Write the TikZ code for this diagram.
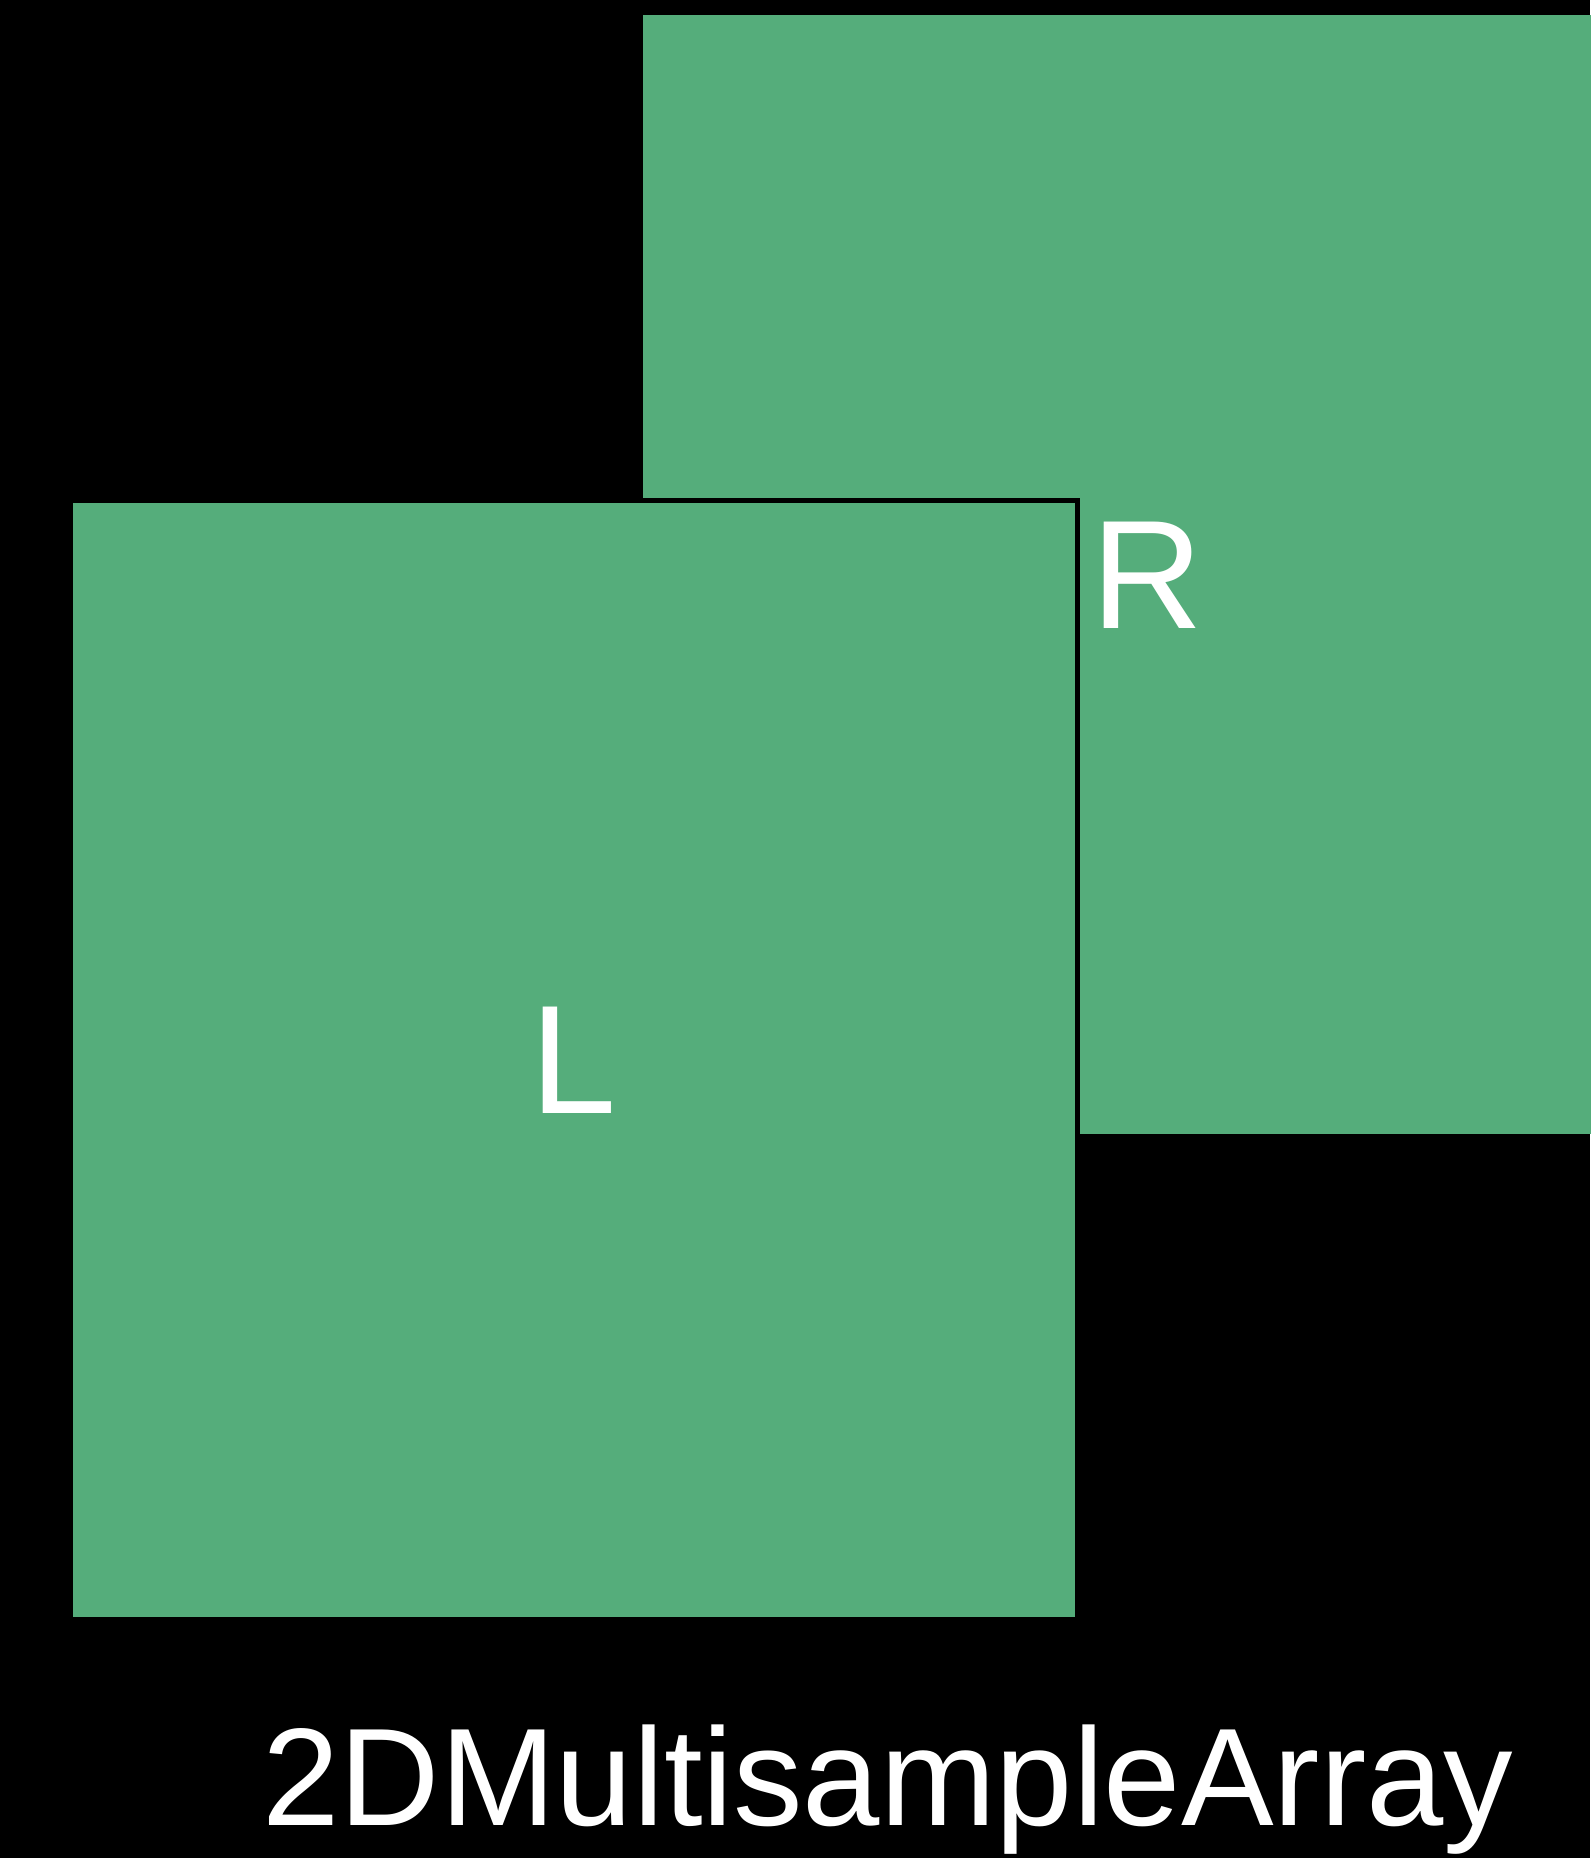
\documentclass[tikz,border=0pt]{standalone}
\usepackage{fontspec}
\setmainfont{Liberation Sans}
\usepackage{tikz}
\usetikzlibrary{positioning}
\usepackage{xcolor}
\definecolor{facegreen}{HTML}{55AD7B}

\begin{document}
\begin{tikzpicture}[x=0.01cm,y=-0.01cm,
    face/.style={rectangle,fill=facegreen,inner sep=0pt,anchor=north west},
    lbl/.style={text=white,inner sep=0pt,font=\fontsize{44}{44}\selectfont}]
  \fill[black] (0,0) rectangle (1590,1858);
  \useasboundingbox (0,0) rectangle (1590,1858);
  \node[face,minimum width=9.48cm,minimum height=11.19cm](Rface) at (642,14){};
  \node[lbl](R) at (1147,575){R};
  \node[face,draw=black,line width=0.05cm,minimum width=10.06cm,minimum height=11.19cm](Lface) at (68,497.5){};
  \node[lbl](L) at (Lface.center){L};
  \node[lbl,anchor=base west,font=\fontsize{39.5}{40}\selectfont](name) at (262,1825){2DMultisampleArray};
\end{tikzpicture}
\end{document}
